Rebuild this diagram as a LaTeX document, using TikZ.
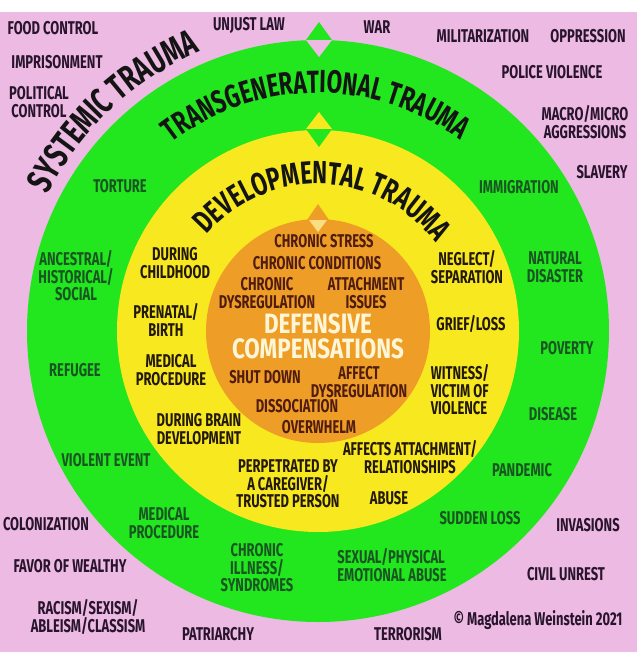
\documentclass[tikz,border=0pt]{standalone}
\usepackage{fontspec}
\setmainfont{Fira Sans}[FakeStretch=0.7]
\newfontfamily\widefont{Fira Sans}[FakeStretch=0.8]
\usetikzlibrary{decorations.text}
\definecolor{bgpink}{RGB}{236,186,226}
\definecolor{ringgreen}{RGB}{34,230,30}
\definecolor{ringyellow}{RGB}{248,232,32}
\definecolor{coreorange}{RGB}{238,158,38}
\definecolor{paletri}{RGB}{250,222,130}
\definecolor{pinkink}{RGB}{40,20,45}
\definecolor{greenink}{RGB}{25,85,35}
\definecolor{yellowink}{RGB}{35,25,10}
\definecolor{orangeink}{RGB}{80,28,15}
\definecolor{creamink}{RGB}{255,246,215}
\definecolor{titleink}{RGB}{20,20,20}
\tikzset{
  lab/.style={font=\bfseries\fontsize{18.5}{17.5}\selectfont, align=center, inner sep=0pt},
  pinklab/.style={lab, text=pinkink},
  greenlab/.style={lab, text=greenink},
  yellowlab/.style={lab, text=yellowink},
  orangelab/.style={lab, text=orangeink},
}
\begin{document}
\begin{tikzpicture}[x=1pt,y=1pt]
\useasboundingbox (0,0) rectangle (639,-665);
\fill[white] (0,0) rectangle (639,-665);
\fill[bgpink] (0,-12) rectangle (637,-652);
% rings
\fill[ringgreen] (318,-331) circle[radius=291];
\fill[ringyellow] (318,-331) circle[radius=201];
\fill[coreorange] (318,-331) circle[radius=112];
% markers
\fill[ringgreen] (319,-22) -- (306,-40) -- (332,-40) -- cycle;
\fill[bgpink] (306,-40) -- (332,-40) -- (319,-57) -- cycle;
\fill[ringyellow] (319,-112) -- (306,-129) -- (332,-129) -- cycle;
\fill[ringgreen] (306,-129) -- (332,-129) -- (319,-147) -- cycle;
\fill[coreorange] (318,-204) -- (307,-220) -- (329,-220) -- cycle;
\fill[paletri] (309,-220) -- (327,-220) -- (318,-232) -- cycle;
% curved titles
\path[decorate, decoration={text along path, text align=center, text color=titleink,
  text={|\bfseries\fontsize{36}{36}\selectfont|SYSTEMIC TRAUMA}}]
  ([shift={(318,-331)}]172:303) arc[start angle=172, end angle=94, radius=303];
\path[decorate, decoration={text along path, text align=center, text color=titleink,
  text={|\bfseries\fontsize{32}{32}\selectfont|TRANSGENERATIONAL TRAUMA}}]
  ([shift={(318,-331)}]160:238) arc[start angle=160, end angle=21, radius=238];
\path[decorate, decoration={text along path, text align=center, text color=titleink,
  text={|\bfseries\fontsize{32}{32}\selectfont|DEVELOPMENTAL TRAUMA}}]
  ([shift={(318,-331)}]170:147) arc[start angle=170, end angle=6, radius=147];
% pink labels
\node[pinklab] (p1) at (53,-28) {FOOD CONTROL};
\node[pinklab] (p2) at (249,-25) {UNJUST LAW};
\node[pinklab] (p3) at (377,-27) {WAR};
\node[pinklab] (p4) at (483,-36) {MILITARIZATION};
\node[pinklab] (p5) at (588,-36) {OPPRESSION};
\node[pinklab] (p6) at (57,-62) {IMPRISONMENT};
\node[pinklab] (p7) at (552,-72) {POLICE VIOLENCE};
\node[pinklab] (p8) at (39,-102) {POLITICAL\\CONTROL};
\node[pinklab] (p9) at (585,-122) {MACRO/MICRO\\AGGRESSIONS};
\node[pinklab] (p10) at (602,-172) {SLAVERY};
\node[pinklab] (p11) at (46,-524) {COLONIZATION};
\node[pinklab] (p12) at (70,-566) {FAVOR OF WEALTHY};
\node[pinklab] (p13) at (88,-617) {RACISM/SEXISM/\\ABLEISM/CLASSISM};
\node[pinklab] (p14) at (218,-634) {PATRIARCHY};
\node[pinklab] (p15) at (408,-634) {TERRORISM};
\node[pinklab] (p16) at (538,-620) {© Magdalena Weinstein 2021};
\node[pinklab] (p17) at (566,-574) {CIVIL UNREST};
\node[pinklab] (p18) at (588,-525) {INVASIONS};
% green labels
\node[greenlab] (g1) at (120,-186) {TORTURE};
\node[greenlab] (g2) at (519,-187) {IMMIGRATION};
\node[greenlab] (g3) at (76,-276) {ANCESTRAL/\\HISTORICAL/\\SOCIAL};
\node[greenlab] (g4) at (555,-267) {NATURAL\\DISASTER};
\node[greenlab] (g5) at (75,-370) {REFUGEE};
\node[greenlab] (g6) at (567,-348) {POVERTY};
\node[greenlab] (g7) at (553,-414) {DISEASE};
\node[greenlab] (g8) at (106,-460) {VIOLENT EVENT};
\node[greenlab] (g9) at (522,-470) {PANDEMIC};
\node[greenlab] (g10) at (164,-523) {MEDICAL\\PROCEDURE};
\node[greenlab] (g11) at (480,-518) {SUDDEN LOSS};
\node[greenlab] (g12) at (257,-568) {CHRONIC\\ILLNESS/\\SYNDROMES};
\node[greenlab, align=left] (g13) at (392,-565) {SEXUAL/PHYSICAL\\EMOTIONAL ABUSE};
% yellow labels
\node[yellowlab] (y1) at (175,-263) {DURING\\CHILDHOOD};
\node[yellowlab] (y2) at (467,-267) {NEGLECT/\\SEPARATION};
\node[yellowlab] (y3) at (166,-320) {PRENATAL/\\BIRTH};
\node[yellowlab] (y4) at (471,-324) {GRIEF/LOSS};
\node[yellowlab] (y5) at (171,-370) {MEDICAL\\PROCEDURE};
\node[yellowlab, align=left] (y6) at (460,-390) {WITNESS/\\VICTIM OF\\VIOLENCE};
\node[yellowlab] (y7) at (199,-429) {DURING BRAIN\\DEVELOPMENT};
\node[yellowlab] (y8) at (410,-457) {AFFECTS ATTACHMENT/\\RELATIONSHIPS};
\node[yellowlab] (y9) at (288,-484) {PERPETRATED BY\\A CAREGIVER/\\TRUSTED PERSON};
\node[yellowlab] (y10) at (389,-498) {ABUSE};
% orange labels
\node[orangelab] (o1) at (324,-241) {CHRONIC STRESS};
\node[orangelab] (o2) at (317,-263) {CHRONIC CONDITIONS};
\node[orangelab] (o3) at (267,-293) {CHRONIC\\DYSREGULATION};
\node[orangelab] (o4) at (366,-293) {ATTACHMENT\\ISSUES};
\node[lab, text=creamink, font=\widefont\bfseries\fontsize{28}{25}\selectfont] (o5) at (318,-336) {DEFENSIVE\\COMPENSATIONS};
\node[orangelab] (o6) at (265,-377) {SHUT DOWN};
\node[orangelab] (o7) at (359,-382) {AFFECT\\DYSREGULATION};
\node[orangelab] (o8) at (297,-406) {DISSOCIATION};
\node[orangelab] (o9) at (319,-427) {OVERWHELM};
\end{tikzpicture}
\end{document}
